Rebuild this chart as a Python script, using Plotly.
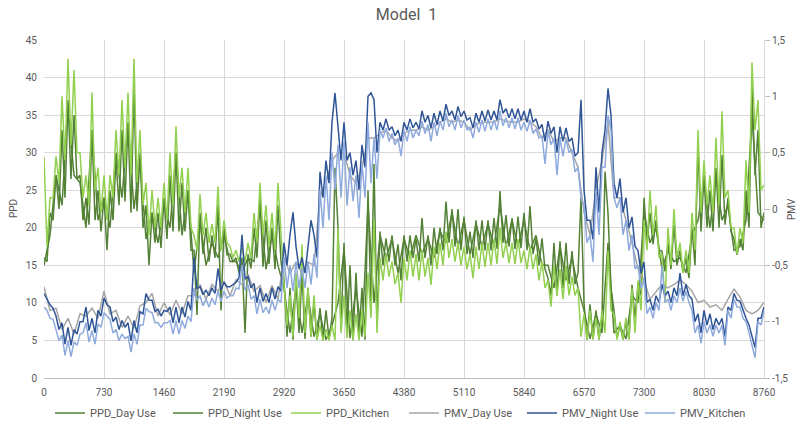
import plotly.graph_objects as go

# Hour index of readings: "hi" readings every STEP hours, "lo" readings half a step later
STEP_FINE = 73
STEP_COARSE = 146

X_TICKS = [0, 730, 1460, 2190, 2920, 3650, 4380, 5110, 5840, 6570, 7300, 8030, 8760]
PMV_TICKS = [-1.5, -1, -0.5, 0, 0.5, 1, 1.5]
PMV_TICK_TEXT = ["-1,5", "-1", "-0,5", "0", "0,5", "1", "1,5"]

# ---------------- PPD series (left axis) ----------------
PPD_KITCHEN_HI = [29.5, 24, 29.5, 37.5, 42.5, 41, 30, 27, 38, 28, 27, 27, 33, 37, 38, 42.5, 33, 26, 25, 24,
                  26, 30, 33.5, 28, 28, 19, 24.5, 22, 20.5, 25.5, 21, 17.5, 17, 17.5, 18, 22, 26, 23, 22, 26,
                  12.6, 11, 14, 17.8, 12, 11, 7, 6.5, 7, 20, 11, 9, 8.5, 9, 14, 21, 16, 16.4, 15.5, 14,
                  16, 17, 16.5, 17, 16, 17.5, 18, 19.5, 18.5, 18, 17.5, 16.5, 17.5, 18, 18, 18.5, 20, 18, 18, 18.5,
                  17, 17.5, 16.5, 15.5, 13, 15, 14.5, 15, 13.5, 12, 8.5, 9, 8, 9, 16.9, 8.5, 7.5, 8, 12, 13,
                  21, 25, 23, 16.5, 20, 22.5, 18, 17, 22, 33, 29, 27, 32, 35.5, 25, 20, 20, 29, 42, 37, 25.7]
PPD_KITCHEN_LO = [17.5, 24, 26, 29, 31, 30, 24, 23, 25, 22, 21, 24, 27, 28, 27, 26, 23, 19, 20, 20,
                  21, 23, 24, 22, 20, 17, 19, 18, 18, 17, 18, 16, 15.5, 15.5, 16, 18, 19, 17.5, 17, 19,
                  7, 5.5, 8, 6, 5.5, 5.1, 5, 5, 5, 6, 5.3, 5, 5, 5.5, 8, 6, 13, 13.5, 12.5, 10,
                  13, 13.5, 13, 13.5, 12.4, 14.5, 15, 16, 15.5, 15, 14.5, 13.3, 14.5, 14.8, 15, 15.2, 16, 15.3, 15.2, 15.3,
                  14.5, 14.5, 13, 12, 9.5, 11, 10.5, 11, 11, 5.5, 5.1, 5.1, 5.1, 6, 9, 5.1, 5.1, 5.1, 6, 9,
                  17, 19, 16, 10, 15, 16, 14, 14, 17, 22, 23, 22, 23, 24, 20, 16.5, 18, 22, 33, 25]

PPD_NIGHT_HI = [16, 22, 27, 33, 37, 35, 27, 24, 33, 25, 24, 25, 29, 33, 34, 38.5, 30, 23, 22, 22,
                24, 27, 30, 26, 25, 17, 22, 20, 19, 23, 20, 16.5, 16, 16, 16.5, 20, 24, 21, 20, 23,
                13, 12, 13, 14, 12, 10, 9.3, 9, 8, 20, 18, 15, 14, 12, 25, 28.5, 19.5, 18.6, 19, 17.8,
                19, 19, 18.5, 21.3, 19, 20, 20, 23.5, 22.5, 22.5, 21.5, 19.5, 21, 21, 21, 21.3, 24.9, 21.7, 21.3, 21.5,
                22, 22.9, 18.6, 18.6, 13.3, 18, 18.2, 18, 16.9, 14, 10, 9.8, 9, 8, 22, 9, 7, 7.5, 12.4, 12.4,
                24, 22, 21, 16.9, 18, 20.4, 17, 16, 20, 31, 27, 25, 28, 29.7, 24, 18.5, 18.5, 25, 38.6, 33, 22]
PPD_NIGHT_LO = [15.5, 21, 22.5, 24, 26.5, 26.5, 21, 20.4, 21, 19.5, 17, 21, 23, 23.5, 22, 22.2, 20, 15, 18, 17.3,
                18.5, 19.5, 19.5, 19.5, 17, 8.4, 16.5, 15.5, 16, 9, 16.4, 15.5, 14, 6, 14.6, 16, 14.8, 15.2, 14.5, 15.5,
                5.5, 5.1, 6, 5.2, 5.5, 5.1, 5, 5.2, 28, 6.5, 6, 5.1, 5.5, 5.1, 9, 7, 15, 15.5, 15, 13,
                15.5, 16, 15.5, 16, 15, 16.5, 17, 18, 17.5, 17, 16.5, 16, 17, 17, 17, 17.2, 18, 17.5, 17.2, 17.3,
                17, 16.5, 15, 14.5, 11, 11, 12, 12.5, 12.5, 24, 5.1, 5.2, 5.1, 27.5, 12, 5.3, 5.1, 5.2, 8, 11,
                18, 17.8, 17, 14.2, 14.5, 15, 14, 13.3, 15, 19.5, 20, 19.5, 20, 20.4, 19.5, 16.4, 17, 20, 27, 20]

PPD_DAY_HI = [15, 27, 36, 26, 33, 24, 30, 34, 29, 22, 23, 30, 25, 21, 18, 19, 15.5, 16, 23, 19,
              12, 12, 11, 8.5, 7, 17, 12, 23, 19, 18.5, 18.5, 19, 18.5, 19.5, 22, 21, 20.5, 20.5, 23, 21,
              21, 19, 15, 17.5, 16, 9, 8.5, 18, 7, 11, 22, 20, 17, 16, 19, 26, 27, 23, 17.5, 35, 21]
PPD_DAY_LO = [19, 23, 27, 20, 21, 20, 24, 22.5, 18.5, 18, 20, 19, 14, 15, 16, 15.5, 14, 15.5, 14.5, 15,
              6, 6, 5.5, 5.1, 10, 5.3, 5.5, 10, 16, 14, 16, 16.5, 16, 18, 17.5, 16.5, 17.5, 17.5, 17.5, 17.5,
              17, 15, 12, 13, 12, 5.2, 6, 6, 5.2, 10, 18, 14.5, 15.5, 14, 21, 20, 21, 17, 21, 22]

# ---------------- PMV series (right axis) ----------------
PMV_NIGHT_HI = [-0.75, -0.85, -0.95, -1.01, -1.05, -1.07, -1.00, -0.87, -0.97, -0.90, -0.79, -0.87, -0.96, -0.99, -1.01, -0.99, -0.91, -0.75, -0.81, -0.89,
                -0.90, -0.87, -0.87, -0.87, -0.82, -0.43, -0.69, -0.72, -0.70, -0.53, -0.65, -0.69, -0.65, -0.23, -0.60, -0.66, -0.70, -0.75, -0.70, -0.69,
                -0.30, -0.23, -0.33, -0.43, -0.33, -0.23, 0.33, 0.43, 0.77, 0.73, 0.77, 0.50, 0.43, 0.57, 1.00, 0.97, 0.77, 0.80, 0.73, 0.70,
                0.77, 0.80, 0.77, 0.87, 0.83, 0.85, 0.87, 0.93, 0.87, 0.91, 0.87, 0.81, 0.85, 0.87, 0.88, 0.87, 0.97, 0.89, 0.89, 0.89,
                0.87, 0.89, 0.80, 0.75, 0.78, 0.73, 0.73, 0.72, 0.63, 0.50, 0.17, -0.10, 0.37, 0.50, 1.07, 0.23, 0.27, 0.10, -0.07, -0.37,
                -0.47, -0.80, -0.77, -0.67, -0.73, -0.70, -0.57, -0.67, -0.80, -0.93, -0.90, -0.93, -0.97, -0.97, -0.87, -0.75, -0.82, -0.97, -1.13, -0.97, -0.87]
PMV_NIGHT_LO = [-0.80, -0.88, -1.07, -1.20, -1.21, -1.11, -1.00, -1.08, -1.10, -0.95, -0.85, -1.00, -1.07, -1.05, -1.17, -1.10, -0.93, -0.81, -0.91, -0.95,
                -0.91, -1.01, -1.01, -0.96, -0.90, -0.71, -0.76, -0.77, -0.75, -0.72, -0.69, -0.67, -0.61, -0.62, -0.70, -0.83, -0.82, -0.83, -0.80, -0.73,
                -0.50, -0.03, -0.53, -0.57, -0.10, -0.43, 0.10, 0.23, 1.03, 0.43, 0.43, 0.30, 0.17, 0.37, 1.03, 0.50, 0.70, 0.70, 0.65, 0.60,
                0.70, 0.72, 0.71, 0.77, 0.72, 0.75, 0.78, 0.83, 0.79, 0.82, 0.79, 0.72, 0.77, 0.78, 0.79, 0.79, 0.85, 0.81, 0.80, 0.79,
                0.77, 0.77, 0.71, 0.60, 0.67, 0.50, 0.60, 0.60, 0.47, 0.97, -0.10, -0.27, -0.03, 0.70, 0.83, 0.10, -0.03, -0.17, -0.33, -0.57,
                -0.83, -0.90, -0.83, -0.77, -0.83, -0.77, -0.77, -0.77, -1.00, -1.10, -1.03, -1.07, -1.03, -1.13, -0.90, -0.81, -0.90, -1.03, -1.23, -0.97]

PMV_KITCHEN_HI = [-0.87, -0.97, -1.07, -1.12, -1.17, -1.18, -1.11, -1.01, -1.08, -1.02, -0.92, -0.98, -1.07, -1.11, -1.13, -1.11, -1.03, -0.88, -0.92, -1.01,
                  -1.01, -0.99, -0.99, -0.99, -0.95, -0.70, -0.77, -0.80, -0.79, -0.73, -0.73, -0.77, -0.70, -0.50, -0.67, -0.77, -0.80, -0.87, -0.81, -0.80,
                  -0.43, -0.50, -0.47, -0.53, -0.47, -0.40, 0.17, 0.30, 0.50, 0.57, 0.60, 0.37, 0.30, 0.40, 0.77, 0.63, 0.70, 0.72, 0.67, 0.63,
                  0.70, 0.73, 0.70, 0.78, 0.75, 0.77, 0.78, 0.85, 0.79, 0.83, 0.79, 0.73, 0.77, 0.79, 0.80, 0.79, 0.87, 0.81, 0.81, 0.81,
                  0.77, 0.79, 0.71, 0.65, 0.69, 0.63, 0.63, 0.62, 0.53, 0.37, 0.03, -0.23, 0.17, 0.37, 0.83, 0.10, 0.10, -0.10, -0.23, -0.50,
                  -0.63, -0.87, -0.83, -0.50, -0.80, -0.77, -0.70, -0.73, -0.90, -1.03, -1.00, -1.03, -1.03, -1.03, -0.90, -0.80, -0.87, -1.00, -1.20, -1.00, -0.90]
PMV_KITCHEN_LO = [-0.90, -0.98, -1.17, -1.30, -1.31, -1.21, -1.10, -1.18, -1.20, -1.05, -0.95, -1.10, -1.17, -1.15, -1.27, -1.20, -1.03, -0.91, -1.01, -1.05,
                  -1.01, -1.11, -1.11, -1.06, -1.00, -0.81, -0.86, -0.87, -0.85, -0.82, -0.79, -0.77, -0.71, -0.72, -0.80, -0.93, -0.92, -0.93, -0.90, -0.83,
                  -0.70, -0.73, -0.70, -0.70, -0.67, -0.61, -0.17, -0.10, 0.17, 0.10, 0.03, 0.07, -0.08, 0.10, 0.23, 0.27, 0.63, 0.60, 0.57, 0.47,
                  0.60, 0.63, 0.65, 0.67, 0.60, 0.65, 0.70, 0.73, 0.70, 0.72, 0.70, 0.63, 0.68, 0.69, 0.70, 0.70, 0.74, 0.72, 0.71, 0.70,
                  0.69, 0.67, 0.63, 0.40, 0.57, 0.30, 0.47, 0.50, 0.33, 0.10, -0.30, -0.47, -0.23, 0.37, 0.70, 0.01, -0.23, -0.37, -0.53, -0.70,
                  -0.93, -0.97, -0.90, -0.83, -0.90, -0.83, -0.82, -0.83, -1.10, -1.19, -1.10, -1.13, -1.10, -1.21, -0.97, -0.87, -0.97, -1.10, -1.32, -1.03]

PMV_DAY_HI = [-0.69, -0.88, -0.97, -0.93, -0.88, -0.73, -0.90, -0.95, -0.86, -0.75, -0.83, -0.81, -0.77, -0.67, -0.67, -0.64, -0.63, -0.58, -0.68, -0.68,
              -0.43, -0.47, -0.47, 0.10, 0.43, 0.50, 0.23, 0.63, 0.67, 0.63, 0.67, 0.70, 0.70, 0.77, 0.77, 0.77, 0.75, 0.77, 0.80, 0.77,
              0.80, 0.73, 0.70, 0.63, 0.50, -0.03, 0.17, 0.77, 0.10, -0.30, -0.63, -0.73, -0.70, -0.63, -0.73, -0.81, -0.85, -0.80, -0.78, -0.93, -0.83]
PMV_DAY_LO = [-0.90, -1.07, -1.11, -0.95, -0.97, -0.93, -1.05, -1.06, -0.83, -0.95, -0.94, -0.93, -0.77, -0.80, -0.73, -0.77, -0.67, -0.73, -0.83, -0.80,
              -0.57, -0.57, -0.50, 0.23, 0.50, 0.30, 0.37, 0.63, 0.70, 0.60, 0.70, 0.73, 0.73, 0.80, 0.79, 0.70, 0.77, 0.77, 0.78, 0.77,
              0.77, 0.63, 0.60, 0.63, 0.37, -0.23, 0.43, 0.10, -0.10, -0.53, -0.80, -0.67, -0.67, -0.67, -0.83, -0.87, -0.90, -0.71, -0.90, -0.90]


def interleave(hi, lo, step):
    xs, ys = [], []
    for i, h in enumerate(hi):
        xs.append(i * step)
        ys.append(h)
        if i < len(lo):
            xs.append(i * step + step / 2)
            ys.append(lo[i])
    return xs, ys


SERIES = [
    ("PPD_Day Use", PPD_DAY_HI, PPD_DAY_LO, STEP_COARSE, "#548235", "y"),
    ("PPD_Night Use", PPD_NIGHT_HI, PPD_NIGHT_LO, STEP_FINE, "#538135", "y"),
    ("PPD_Kitchen", PPD_KITCHEN_HI, PPD_KITCHEN_LO, STEP_FINE, "#92D050", "y"),
    ("PMV_Day Use", PMV_DAY_HI, PMV_DAY_LO, STEP_COARSE, "#A5A5A5", "y2"),
    ("PMV_Night Use", PMV_NIGHT_HI, PMV_NIGHT_LO, STEP_FINE, "#2F5597", "y2"),
    ("PMV_Kitchen", PMV_KITCHEN_HI, PMV_KITCHEN_LO, STEP_FINE, "#8FAADC", "y2"),
]

FONT = "Roboto, Liberation Sans, sans-serif"
TXT = "#595959"

fig = go.Figure()
for name, hi, lo, step, color, yax in SERIES:
    xs, ys = interleave(hi, lo, step)
    fig.add_trace(go.Scatter(x=xs, y=ys, name=name, mode="lines", yaxis=yax,
                             line=dict(color=color, width=1.5)))

fig.update_layout(
    width=805, height=425,
    margin=dict(l=44, r=41, t=40, b=47, autoexpand=False),
    paper_bgcolor="white", plot_bgcolor="white",
    font=dict(family=FONT, color=TXT, size=11),
    title=dict(text="Model  1", x=0.505, xanchor="center", y=0.965, yanchor="middle",
               font=dict(size=16, color=TXT, family=FONT)),
    showlegend=True,
    legend=dict(orientation="h", x=0.5, xanchor="center",
                y=0.028, yanchor="middle", yref="container", bgcolor="rgba(0,0,0,0)",
                font=dict(size=11, color=TXT), entrywidth=73, traceorder="normal"),
    xaxis=dict(range=[0, 8760], tickvals=X_TICKS, showgrid=True, gridcolor="#D9D9D9", gridwidth=1,
               showline=True, linecolor="#BFBFBF", ticks="", zeroline=False, automargin=False,
               tickfont=dict(size=10, color=TXT), ticklabelstandoff=5),
    yaxis=dict(range=[0, 45], dtick=5, showgrid=True, gridcolor="#D9D9D9", gridwidth=1,
               showline=False, zeroline=False, ticks="", tickfont=dict(size=10, color=TXT),
               ticklabelstandoff=6, automargin=False),
    yaxis2=dict(range=[-1.5, 1.5], overlaying="y", side="right", tickvals=PMV_TICKS,
                ticktext=PMV_TICK_TEXT, showgrid=False, zeroline=False, showline=True,
                linecolor="#D9D9D9", ticks="outside", ticklen=5, tickcolor="#BFBFBF",
                tickfont=dict(size=10, color=TXT), automargin=False),
    annotations=[
        dict(text="PPD", xref="paper", yref="paper", x=-0.043, y=0.5, textangle=-90,
             showarrow=False, xanchor="center", yanchor="middle", font=dict(size=10, color=TXT)),
        dict(text="PMV", xref="paper", yref="paper", x=1.0375, y=0.5, textangle=-90,
             showarrow=False, xanchor="center", yanchor="middle", font=dict(size=10, color=TXT)),
    ],
)

fig.write_html("out.html", config={"displayModeBar": False},
               post_script="document.body.style.margin='0';")
